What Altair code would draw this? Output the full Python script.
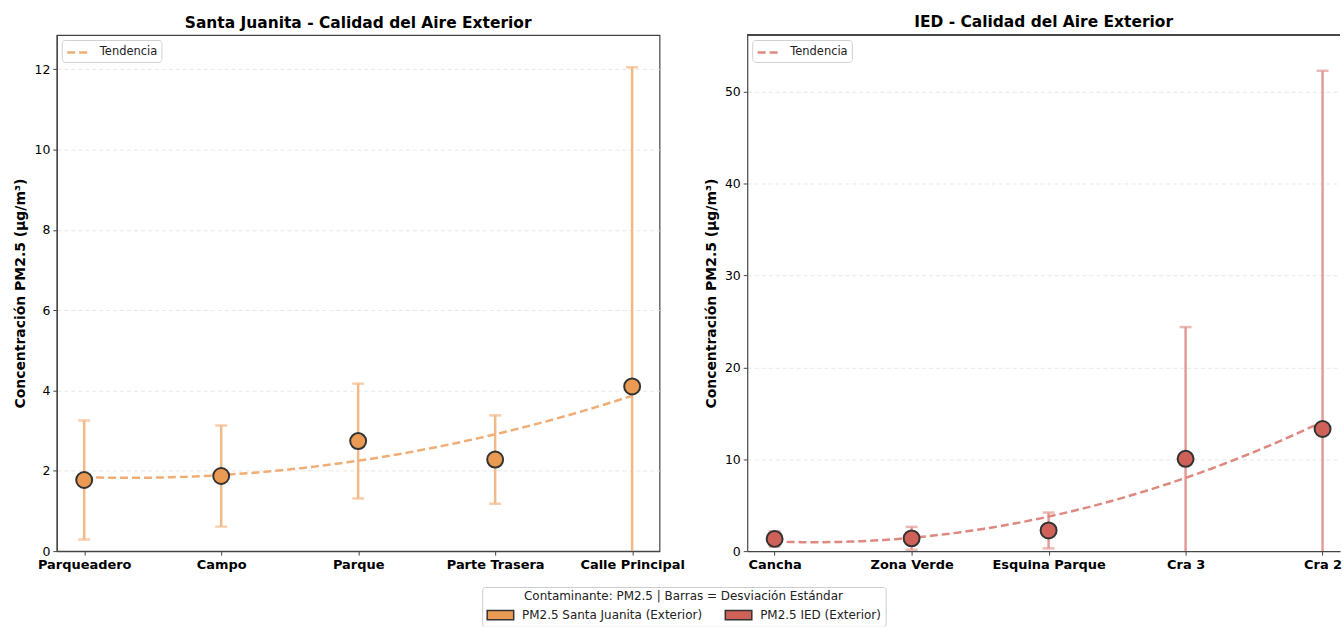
import altair as alt
import pandas as pd

# PM2.5 outdoor measurements: mean and standard deviation per site
sj_lugares = ["Parqueadero", "Campo", "Parque", "Parte Trasera", "Calle Principal"]
sj_media = [1.77, 1.87, 2.74, 2.28, 4.10]
sj_desv = [1.48, 1.26, 1.43, 1.10, 7.95]

ied_lugares = ["Cancha", "Zona Verde", "Esquina Parque", "Cra 3", "Cra 2"]
ied_media = [1.33, 1.39, 2.25, 10.05, 13.30]
ied_desv = [0.83, 1.25, 1.95, 14.35, 39.00]

series = ["PM2.5 Santa Juanita (Exterior)", "PM2.5 IED (Exterior)"]
fill_colors = ["#EA9A52", "#CF6158"]
bar_colors = ["#F3B887", "#E39B96"]
trend_colors = ["#F0AE76", "#DF887F"]

FONT = "DejaVu Sans"
EDGE = "#444444"


def tabla(lugares, media, desv, serie):
    return pd.DataFrame({
        "idx": list(range(len(lugares))),
        "lugar": lugares,
        "media": media,
        "desv": desv,
        "serie": [serie] * len(lugares),
    })


def panel(df, lugares, k, titulo, ymax, yticks, xmax, width, open_right):
    names = "[" + ",".join("'" + n + "'" for n in lugares) + "]"
    x_axis = alt.Axis(
        values=list(range(len(lugares))), labelExpr=names + "[datum.value]",
        title=None, grid=False, labelFontWeight="bold", labelFontSize=13,
        labelColor="black", tickSize=4, tickColor=EDGE, labelPadding=3,
        domainColor=EDGE, domainWidth=1.2, labelFlush=False,
    )
    y_axis = alt.Axis(
        values=yticks, title="Concentración PM2.5 (μg/m³)", titleFontSize=14,
        titleFontWeight="bold", titleColor="black", titlePadding=6,
        labelFontSize=12.5, labelColor="black", tickSize=4, tickColor=EDGE,
        domainColor=EDGE, domainWidth=1.2, grid=True, gridColor="#e2e2e2",
        gridDash=[4, 3], gridWidth=0.8, labelPadding=3,
    )
    xscale = alt.Scale(domain=[-0.2, xmax], nice=False, zero=False)
    x = alt.X("idx:Q", scale=xscale, axis=x_axis)
    yscale = alt.Scale(domain=[0, ymax], nice=False, zero=False)

    base = alt.Chart(df).transform_calculate(
        lo="datum.media - datum.desv", hi="datum.media + datum.desv"
    )

    barras = base.mark_rule(color=bar_colors[k], strokeWidth=2.5, clip=True).encode(
        x=x, y=alt.Y("lo:Q", scale=yscale, axis=y_axis), y2="hi:Q"
    )
    tapa_sup = base.mark_tick(orient="horizontal", size=12, thickness=2.5,
                              color=bar_colors[k], clip=True).encode(
        x=x, y=alt.Y("hi:Q", scale=yscale, axis=y_axis)
    )
    tapa_inf = base.mark_tick(orient="horizontal", size=12, thickness=2.5,
                              color=bar_colors[k], clip=True).encode(
        x=x, y=alt.Y("lo:Q", scale=yscale, axis=y_axis)
    )
    tendencia = base.transform_regression(
        "idx", "media", method="poly", order=2
    ).transform_calculate(curva='"Tendencia"').mark_line(
        color=trend_colors[k], strokeWidth=2.5
    ).encode(
        x=x,
        y=alt.Y("media:Q", scale=yscale, axis=y_axis),
        strokeDash=alt.StrokeDash(
            "curva:N",
            scale=alt.Scale(domain=["Tendencia"], range=[[8, 4]]),
            legend=alt.Legend(
                title=None, orient="top-left", offset=5,
                symbolType="M-1.6,0H1.6", symbolSize=196, symbolOffset=4.2,
                symbolStrokeColor=trend_colors[k], symbolStrokeWidth=2.5,
                labelFontSize=11.5, labelColor="#222", labelFont=FONT,
                fillColor="white", strokeColor="#d0d0d0", padding=4,
                cornerRadius=3, labelOffset=13,
            ),
        ),
    )
    puntos = base.mark_point(filled=True, size=256, stroke="#333333",
                             strokeWidth=2, opacity=1).encode(
        x=x,
        y=alt.Y("media:Q", scale=yscale, axis=y_axis),
        color=alt.Color(
            "serie:N",
            scale=alt.Scale(domain=series, range=fill_colors),
            legend=alt.Legend(
                title="Contaminante: PM2.5 | Barras = Desviación Estándar",
                orient="none", legendX=427, legendY=554, direction="horizontal",
                columns=2, columnPadding=20, titleAnchor="middle",
                titleFontWeight="normal", titleFontSize=12, titleColor="#222",
                titlePadding=4, titleLimit=0, labelLimit=0,
                labelFontSize=12, labelColor="#222", fillColor="white",
                strokeColor="#cccccc", padding=4, cornerRadius=3,
                symbolType="M-1.9,-0.65H1.9V0.65H-1.9Z", symbolSize=196,
                symbolOffset=6.3, symbolStrokeColor="#333333",
                symbolStrokeWidth=1.5, symbolOpacity=1, labelOffset=13.7,
            ),
        ),
    )
    capas = [barras, tapa_sup, tapa_inf, tendencia, puntos]
    props = dict(
        width=width, height=518,
        title=alt.TitleParams(titulo, fontSize=15.5, fontWeight="bold",
                              color="black", offset=4),
    )
    if open_right:
        # top edge of the frame; the right side is left open at the page edge
        borde = alt.Chart(df).mark_rule(color=EDGE, strokeWidth=1.2).encode(
            x=alt.X(datum=-0.2, type="quantitative", scale=xscale, axis=x_axis),
            x2=alt.X2(datum=xmax),
            y=alt.Y(datum=ymax, type="quantitative", scale=yscale, axis=y_axis),
        )
        capas.append(borde)
        props["view"] = alt.ViewBackground(stroke="transparent")
    return alt.layer(*capas).properties(**props).resolve_scale(strokeDash="independent")


# 137.5 px per category step; the right panel is cut at the page edge
izq = panel(tabla(sj_lugares, sj_media, sj_desv, series[0]), sj_lugares, 0,
            "Santa Juanita - Calidad del Aire Exterior", 12.85,
            [0, 2, 4, 6, 8, 10, 12], 4.2, 605, False)
der = panel(tabla(ied_lugares, ied_media, ied_desv, series[1]), ied_lugares, 1,
            "IED - Calidad del Aire Exterior", 56.2,
            [0, 10, 20, 30, 40, 50], 4.2 - 10 / 137.5, 595, True)

chart = alt.hconcat(izq, der, spacing=88, bounds="flush").resolve_scale(
    strokeDash="independent", y="independent", x="independent"
).resolve_legend(strokeDash="independent").properties(
    padding={"left": 13, "top": 13, "right": 0, "bottom": 0}
).configure(font=FONT).configure_view(stroke=EDGE, strokeWidth=1.2)

chart.save("out.html", embed_options={"renderer": "svg", "actions": False})
